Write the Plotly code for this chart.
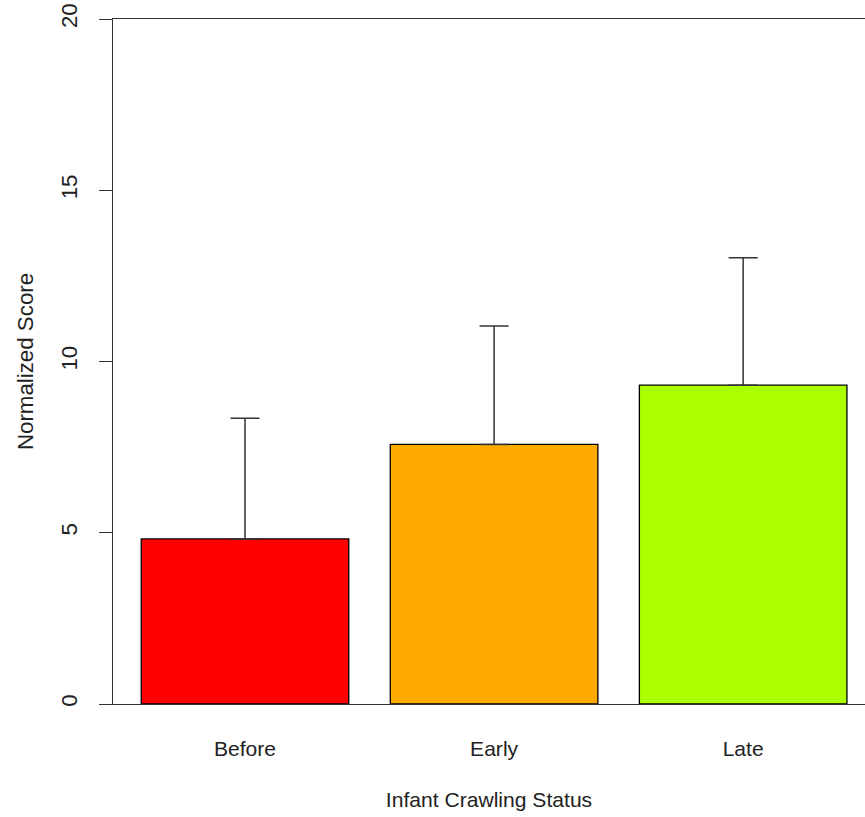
import plotly.graph_objects as go

categories = ["Before", "Early", "Late"]
means = [4.82, 7.58, 9.31]
errors = [3.52, 3.46, 3.72]
colors = ["#FF0000", "#FFAA00", "#AAFF00"]
bar_pos = [0.7, 1.9, 3.1]
y_ticks = [0, 5, 10, 15, 20]

FONT = "Liberation Sans, Arial, sans-serif"
TXT = "#222222"
LINE = "#333333"
FS_Y = 22.3
FS_X = 21.1

fig = go.Figure()
fig.add_trace(go.Bar(
    x=bar_pos, y=means, width=[1, 1, 1],
    marker=dict(color=colors, line=dict(color="#000000", width=1.3)),
    error_y=dict(type="data", array=errors, arrayminus=[0, 0, 0], symmetric=False,
                 color=LINE, thickness=1.5, width=14.5),
    showlegend=False,
))

fig.update_layout(
    width=865, height=817,
    margin=dict(l=113, r=0, t=19, b=113),
    plot_bgcolor="white", paper_bgcolor="white",
    font=dict(family=FONT, size=FS_X, color=TXT),
    xaxis=dict(
        range=[0.064, 3.687],
        tickvals=bar_pos, ticktext=categories,
        tickfont=dict(size=FS_X, color=TXT),
        ticks="outside", ticklen=25, tickcolor="rgba(0,0,0,0)",
        showline=True, mirror=True, linecolor=LINE, linewidth=1.4,
        showgrid=False, zeroline=False,
        title=dict(text="Infant Crawling Status", standoff=33,
                   font=dict(size=FS_X, color=TXT)),
    ),
    yaxis=dict(
        range=[0, 20], tickvals=y_ticks,
        tickfont=dict(size=FS_Y, color=TXT),
        ticks="outside", ticklen=13, tickcolor=LINE, tickwidth=1.4,
        tickangle=-90, ticklabelstandoff=13,
        showline=True, mirror=False, linecolor=LINE, linewidth=1.4,
        showgrid=False, zeroline=False,
        title=dict(text="Normalized Score", standoff=17,
                   font=dict(size=FS_Y, color=TXT)),
    ),
)

fig.write_html("out.html")
